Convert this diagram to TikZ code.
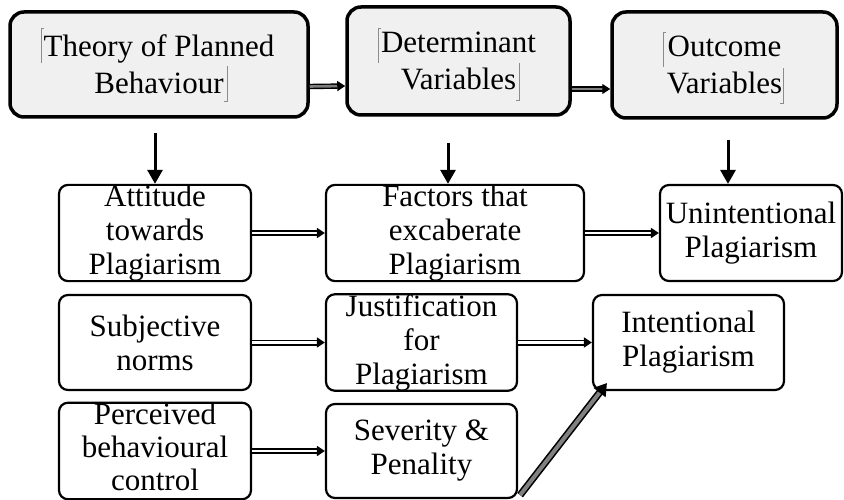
\documentclass[tikz,border=0pt]{standalone}
\usepackage{fontspec}
\setmainfont{Liberation Serif}
\usetikzlibrary{arrows.meta}

\tikzset{
    headbox/.style={draw, line width=3.5pt, rounded corners=14pt, fill=black!6, align=center, inner sep=0pt, font=\fontsize{31}{37}\selectfont},
    itembox/.style={draw, line width=2.2pt, rounded corners=9pt, align=center, inner sep=0pt, font=\fontsize{31}{34}\selectfont},
    downarrow/.style={line width=3pt, -{Triangle[length=14pt,width=15pt]}},
    toparrow/.style={line width=1.4pt, double=gray, double distance=2.6pt, -{Triangle[length=8pt,width=10pt]}},
    rowarrow/.style={line width=1.6pt, double=white, double distance=2.8pt, -{Triangle[length=8pt,width=10pt]}},
    slantarrow/.style={line width=1.6pt, double=gray, double distance=4pt, -{Triangle[length=12pt,width=15pt]}},
    cursor/.style={black!45, line width=0.7pt}
}

\begin{document}
\begin{tikzpicture}[x=1pt, y=-1pt]
    \useasboundingbox (0,0) rectangle (844,500);

    % top row
    \node[headbox, minimum width=298pt, minimum height=105pt] (tpb) at (159,64.5) {Theory of Planned\\Behaviour};
    \node[headbox, minimum width=223pt, minimum height=108pt] (det) at (458.5,61) {Determinant\\Variables};
    \node[headbox, minimum width=225pt, minimum height=106pt] (out) at (724.5,65) {Outcome\\Variables};

    % text box marks
    \draw[cursor] (44,28) -- (41,28) -- (41,63);
    \draw[cursor] (227,66) -- (227,101) -- (224,101);
    \draw[cursor] (381,28) -- (378,28) -- (378,63);
    \draw[cursor] (519,63) -- (519,100) -- (516,100);
    \draw[cursor] (666,32) -- (663,32) -- (663,67);
    \draw[cursor] (783,68) -- (783,103) -- (780,103);

    % lower rows
    \node[itembox, minimum width=192pt, minimum height=96pt] (att) at (155,233) {Attitude\\towards\\Plagiarism};
    \node[itembox, minimum width=258pt, minimum height=96pt] (fac) at (455,233) {Factors that\\excaberate\\Plagiarism};
    \node[itembox, minimum width=182pt, minimum height=96pt] (unint) at (751,233) {Unintentional\\Plagiarism};

    \node[itembox, minimum width=192pt, minimum height=95pt] (subj) at (155,342.5) {Subjective\\norms};
    \node[itembox, minimum width=191pt, minimum height=95pt] (just) at (421.5,342.5) {Justification\\for\\Plagiarism};
    \node[itembox, minimum width=191pt, minimum height=95pt] (int) at (688.5,342.5) {Intentional\\Plagiarism};

    \node[itembox, minimum width=192pt, minimum height=94pt, font=\fontsize{31}{33}\selectfont, text depth=9pt] (perc) at (155,451) {Perceived\\behavioural\\control};
    \node[itembox, minimum width=191pt, minimum height=94pt] (sev) at (421.5,451) {Severity \&\\Penality};

    % arrows
    \draw[toparrow] ([yshift=-22pt]tpb.east) -- ([yshift=-25pt]det.west);
    \draw[toparrow] ([yshift=-28pt]det.east) -- ([yshift=-24pt]out.west);

    \coordinate (d1) at (155,133);
    \coordinate (d2) at (448,143);
    \coordinate (d3) at (728,140);
    \draw[downarrow] (d1) -- (d1 |- att.north);
    \draw[downarrow] (d2) -- (d2 |- fac.north);
    \draw[downarrow] (d3) -- (d3 |- unint.north);

    \draw[rowarrow] (att) -- (fac);
    \draw[rowarrow] (fac) -- (unint);
    \draw[rowarrow] (subj) -- (just);
    \draw[rowarrow] (just) -- (int);
    \draw[rowarrow] (perc) -- (sev);
    \draw[slantarrow] ([xshift=2pt,yshift=4pt]sev.south east) -- ([xshift=15pt,yshift=8pt]int.south west);
\end{tikzpicture}
\end{document}
